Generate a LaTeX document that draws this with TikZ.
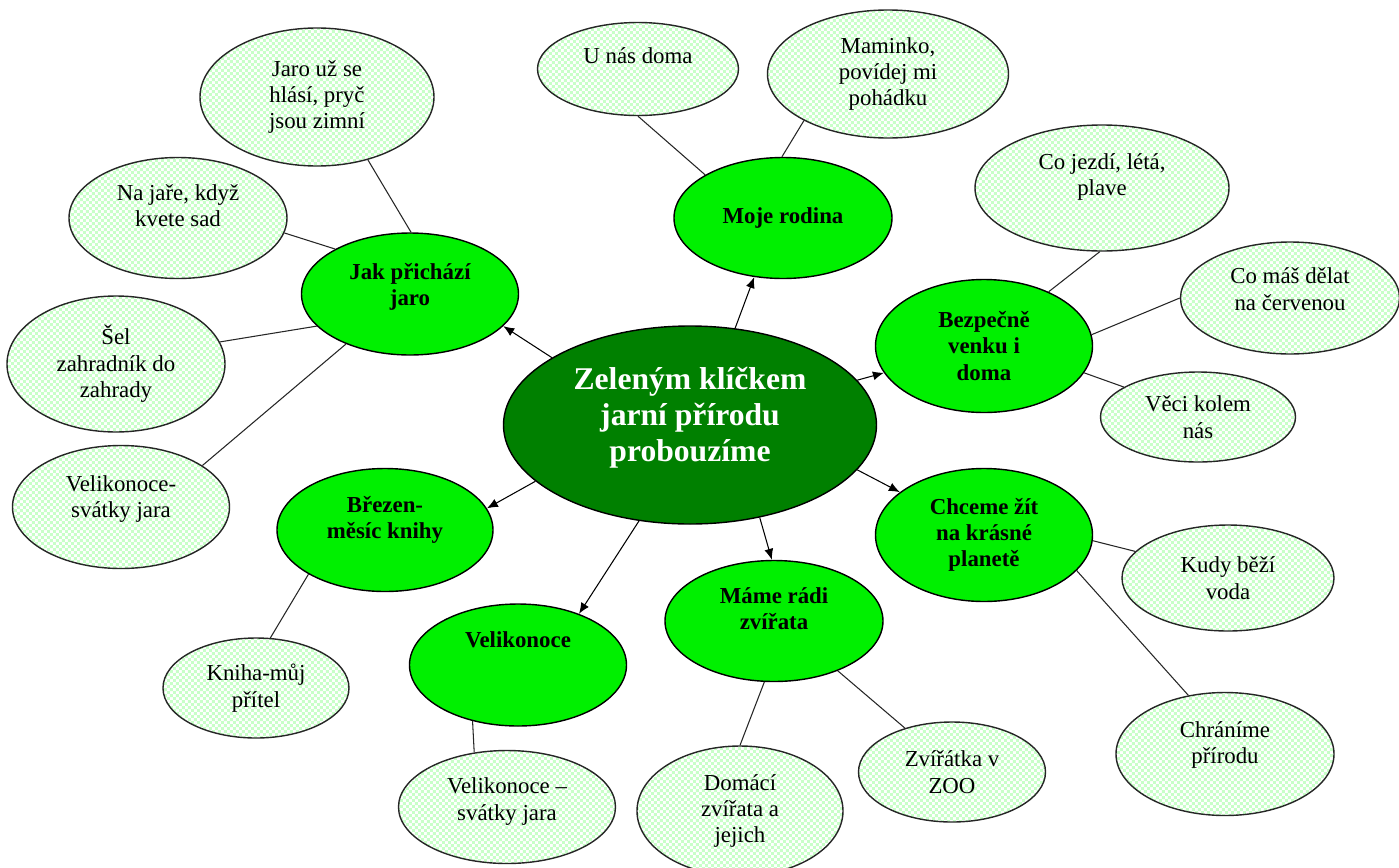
\documentclass[tikz,border=0pt]{standalone}
\usepackage{fontspec}
\setmainfont{Liberation Serif}
\usepackage{xcolor}
\usetikzlibrary{arrows.meta,shapes.geometric,patterns}
\definecolor{hubgreen}{HTML}{008000}
\definecolor{topicgreen}{HTML}{00F000}
\definecolor{checkgreen}{HTML}{C8FFC8}
\pgfdeclarepatternformonly{finechecks}{\pgfqpoint{0pt}{0pt}}{\pgfqpoint{3.4pt}{3.4pt}}{\pgfqpoint{3.4pt}{3.4pt}}{%
  \pgfpathrectangle{\pgfqpoint{0pt}{0pt}}{\pgfqpoint{1.7pt}{1.7pt}}%
  \pgfpathrectangle{\pgfqpoint{1.7pt}{1.7pt}}{\pgfqpoint{1.7pt}{1.7pt}}%
  \pgfusepath{fill}}
\newcommand{\lifted}[2]{\raisebox{#1}[\height][\depth]{\begin{tabular}{@{}c@{}}#2\end{tabular}}}

\begin{document}
\begin{tikzpicture}[font=\fontsize{13}{15}\selectfont,
    hub/.style={ellipse,draw=black,line width=0.8pt,fill=hubgreen,text=white,align=center,inner sep=1pt,font=\fontsize{18}{20.5}\selectfont\bfseries},
    topic/.style={ellipse,draw=black,line width=0.8pt,fill=topicgreen,align=center,inner sep=1pt,font=\fontsize{13}{15}\selectfont\bfseries},
    leaf/.style={ellipse,draw=black!85,line width=0.8pt,preaction={fill=white},pattern=finechecks,pattern color=checkgreen,align=center,inner sep=1pt},
    link/.style={draw=black!85,line width=0.6pt},
    spoke/.style={-{Latex[length=2.2mm,width=1.8mm]},line width=0.6pt}]
  \useasboundingbox[fill=white] (-13.8,8.5) rectangle (14.18,-8.84);

  \node[hub,minimum width=7.46cm,minimum height=3.96cm] (klicek) at (0,0) {\lifted{4pt}{Zeleným klíčkem\\jarní přírodu\\probouzíme}};

  \node[topic,minimum width=4.34cm,minimum height=2.44cm] (jaro) at (-5.6,2.62) {\lifted{4pt}{Jak přichází\\jaro}};
  \node[topic,minimum width=4.36cm,minimum height=2.42cm] (rodina) at (1.86,4.14) {Moje rodina};
  \node[topic,minimum width=4.34cm,minimum height=2.66cm] (bezpeci) at (5.88,1.58) {Bezpečně\\venku i\\doma};
  \node[topic,minimum width=4.34cm,minimum height=2.66cm] (planeta) at (5.88,-2.2) {Chceme žít\\na krásné\\planetě};
  \node[topic,minimum width=4.36cm,minimum height=2.42cm] (zvirata) at (1.68,-3.92) {\lifted{5.5pt}{Máme rádi\\zvířata}};
  \node[topic,minimum width=4.34cm,minimum height=2.44cm] (velikonoce) at (-3.44,-4.8) {\lifted{13pt}{Velikonoce}};
  \node[topic,minimum width=4.32cm,minimum height=2.46cm] (brezen) at (-6.1,-2.1) {\lifted{5.5pt}{Březen-\\měsíc knihy}};

  \node[leaf,minimum width=4.68cm,minimum height=2.76cm] (jaro1) at (-7.46,6.56) {Jaro už se\\hlásí, pryč\\jsou zimní};
  \node[leaf,minimum width=4.36cm,minimum height=2.42cm] (jaro2) at (-10.24,4.14) {\lifted{5.5pt}{Na jaře, když\\kvete sad}};
  \node[leaf,minimum width=4.36cm,minimum height=2.72cm] (jaro3) at (-11.48,1.22) {Šel\\zahradník do\\zahrady};
  \node[leaf,minimum width=4.34cm,minimum height=2.46cm] (jaro4) at (-11.38,-1.64) {\lifted{4.5pt}{Velikonoce-\\svátky jara}};
  \node[leaf,minimum width=4.02cm,minimum height=1.86cm] (rodina1) at (-1.04,7.12) {\lifted{6pt}{U nás doma}};
  \node[leaf,minimum width=4.82cm,minimum height=2.56cm] (rodina2) at (3.96,7.02) {Maminko,\\povídej mi\\pohádku};
  \node[leaf,minimum width=5.08cm,minimum height=2.52cm] (bezpeci1) at (8.24,4.74) {\lifted{6pt}{Co jezdí, létá,\\plave}};
  \node[leaf,minimum width=4.38cm,minimum height=2.24cm] (bezpeci2) at (12.0,2.54) {\lifted{3.5pt}{Co máš dělat\\na červenou}};
  \node[leaf,minimum width=3.9cm,minimum height=1.8cm] (bezpeci3) at (10.16,0.16) {Věci kolem\\nás};
  \node[leaf,minimum width=4.24cm,minimum height=2.12cm] (planeta1) at (10.76,-3.06) {Kudy běží\\voda};
  \node[leaf,minimum width=4.36cm,minimum height=2.46cm] (planeta2) at (10.7,-6.58) {\lifted{5pt}{Chráníme\\přírodu}};
  \node[leaf,minimum width=4.12cm,minimum height=2.6cm] (zvirata1) at (1.0,-7.72) {Domácí\\zvířata a\\jejich};
  \node[leaf,minimum width=3.74cm,minimum height=2.0cm] (zvirata2) at (5.24,-6.94) {Zvířátka v\\ZOO};
  \node[leaf,minimum width=4.34cm,minimum height=2.26cm] (velik1) at (-3.66,-7.64) {\lifted{3pt}{Velikonoce –\\svátky jara}};
  \node[leaf,minimum width=3.72cm,minimum height=2.0cm] (brezen1) at (-8.68,-5.26) {Kniha-můj\\přítel};

  \draw[link] (jaro1.309) -- (jaro.89);
  \draw[link] (jaro2.352) -- (jaro.149);
  \draw[link] (jaro3.12) -- (jaro.199);
  \draw[link] (jaro4.27) -- (jaro.218);
  \draw[link] (rodina1.270) -- (rodina.151);
  \draw[link] (rodina2.209) -- (rodina.91);
  \draw[link] (bezpeci1.268) -- (bezpeci.40);
  \draw[link] (bezpeci2.180) -- (bezpeci.6);
  \draw[link] (bezpeci3.158) -- (bezpeci.345);
  \draw[link] (planeta1.164) -- (planeta.357);
  \draw[link] (planeta2.122) -- (planeta.339);
  \draw[link] (zvirata1.90) -- (zvirata.261);
  \draw[link] (zvirata2.137) -- (zvirata.322);
  \draw[link] (velik1.121) -- (velikonoce.231);
  \draw[link] (brezen1.74) -- (brezen.210);

  \draw[spoke] (klicek.154) -- (jaro.341);
  \draw[spoke] (klicek.65) -- (rodina.244);
  \draw[spoke] (klicek.15) -- (bezpeci.195);
  \draw[spoke] (klicek.200) -- (brezen.12);
  \draw[spoke] (klicek.242) -- (velikonoce.40);
  \draw[spoke] (klicek.307) -- (zvirata.92);
  \draw[spoke] (klicek.345) -- (planeta.153);
\end{tikzpicture}
\end{document}
